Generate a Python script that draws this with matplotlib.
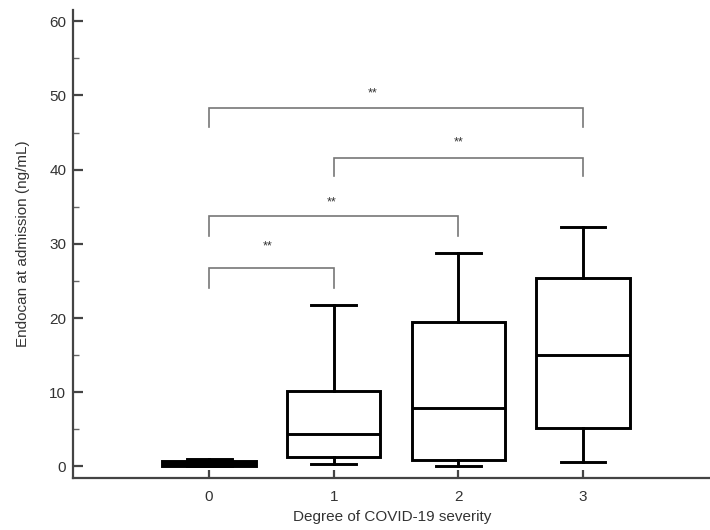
import matplotlib
matplotlib.use("Agg")
import matplotlib.pyplot as plt
from matplotlib.ticker import MultipleLocator

# ---- data ----
groups = [0, 1, 2, 3]
whislo = [0.05, 0.35, 0.1, 0.65]
q1 = [0.05, 1.2, 0.9, 5.2]
med = [0.45, 4.3, 7.85, 15.0]
q3 = [0.75, 10.2, 19.5, 25.4]
whishi = [1.0, 21.7, 28.7, 32.2]
box_fill = ["black", "white", "white", "white"]

# significance brackets: (left group, right group, bar height, leg bottom, star x, star y)
br_left = [0, 1, 0, 0]
br_right = [3, 3, 2, 1]
br_top = [48.3, 41.6, 33.8, 26.8]
br_leg = [45.7, 39.1, 31.0, 24.1]
star_x = [1.31, 2.0, 0.985, 0.47]
star_y = [50.3, 43.6, 35.6, 29.6]
star_txt = ["**", "**", "**", "**"]

plt.rcParams["font.family"] = ["Liberation Sans", "DejaVu Sans"]
txt_col = "#333333"

fig = plt.figure(figsize=(7.1, 5.3), dpi=100)
ax = fig.add_axes([0.1032, 0.099, 0.897, 0.882])

stats = []
for i in range(len(groups)):
    stats.append(dict(whislo=whislo[i], q1=q1[i], med=med[i], q3=q3[i],
                      whishi=whishi[i], fliers=[]))

lp = dict(color="black", linewidth=2.1)
bp = ax.bxp(stats, positions=groups, widths=0.75, showfliers=False,
            patch_artist=True,
            boxprops=dict(edgecolor="black", linewidth=2.1),
            medianprops=lp, whiskerprops=lp, capprops=lp, capwidths=0.36)
for patch, fc in zip(bp["boxes"], box_fill):
    patch.set_facecolor(fc)

# brackets
for l, r, t, b, sx, sy, s in zip(br_left, br_right, br_top, br_leg, star_x, star_y, star_txt):
    ax.plot([l, l, r, r], [b, t, t, b], color="#777777", lw=1.2,
            solid_joinstyle="miter", clip_on=False)
    ax.text(sx, sy, s, ha="center", va="center", fontsize=9, color="#333333")

ax.set_xlim(-1.09, 4.02)
ax.set_ylim(-1.5, 61.5)
ax.set_xticks(groups)
ax.set_xticklabels([str(g) for g in groups])
ax.yaxis.set_major_locator(MultipleLocator(10))
ax.yaxis.set_minor_locator(MultipleLocator(5))

for side in ["top", "right"]:
    ax.spines[side].set_visible(False)
for side in ["left", "bottom"]:
    ax.spines[side].set_color("#444444")
    ax.spines[side].set_linewidth(1.6)

ax.tick_params(axis="y", which="major", direction="in", length=7, width=1.6,
               color="#444444", labelsize=11, labelcolor=txt_col, pad=5)
ax.tick_params(axis="y", which="minor", direction="in", length=4, width=1.0,
               color="#666666")
ax.tick_params(axis="x", which="major", direction="in", length=6, width=1.6,
               color="#444444", labelsize=11, labelcolor=txt_col, pad=9)

ax.set_xlabel("Degree of COVID-19 severity", fontsize=11, color=txt_col, labelpad=4)
ax.set_ylabel("Endocan at admission (ng/mL)", fontsize=11, color=txt_col, labelpad=14)

fig.savefig("out.png", dpi=100)
